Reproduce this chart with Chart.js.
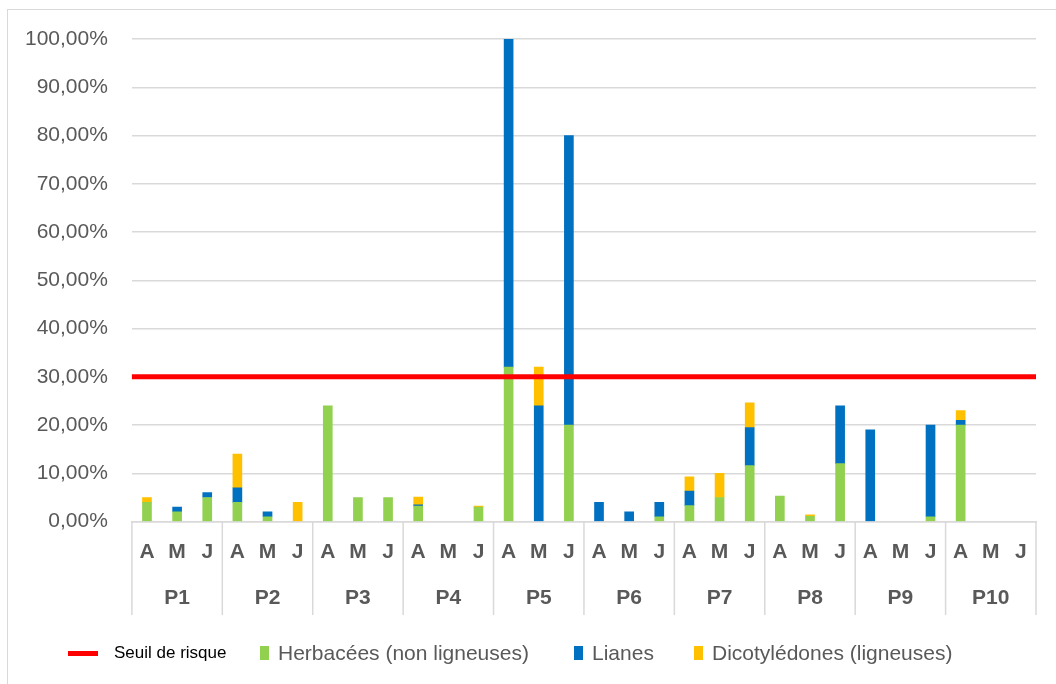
<!DOCTYPE html>
<html>
<head>
<meta charset="utf-8">
<script src="https://cdn.jsdelivr.net/npm/chart.js@4.4.1/dist/chart.umd.min.js"></script>
<style>
	html, body { margin: 0; padding: 0; background: #fff; }
	#wrap { position: relative; width: 1056px; height: 684px; overflow: hidden; }
	#frame { position: absolute; left: 7px; top: 9px; width: 1100px; height: 700px; border-left: 1px solid #d9d9d9; border-top: 1px solid #d9d9d9; }
	#mycanvas { position: absolute; left: 0; top: 0; }
	#legend { position: absolute; top: 640px; left: 0; width: 1056px; height: 26px; font-family: "Liberation Sans", Arial, sans-serif; }
	.item { position: absolute; top: 0; height: 26px; display: flex; align-items: center; white-space: nowrap; }
	.mark { display: inline-block; margin-right: 6px; }
</style>
</head>
<body>
<div id="wrap">
	<div id="frame"></div>
	<canvas id="mycanvas" width="1056" height="684"></canvas>
	<div id="legend"></div>
</div>
<script>
var mois = ['A', 'M', 'J'];
var parcelles = ['P1', 'P2', 'P3', 'P4', 'P5', 'P6', 'P7', 'P8', 'P9', 'P10'];
var yTicks = [0, 10, 20, 30, 40, 50, 60, 70, 80, 90, 100];
var seuil = 30;

// valeurs en %, ordre P1 A, P1 M, P1 J, P2 A ...
var herbacees = [4, 2, 5,   4, 1, 0,   24, 5, 5,   3.2, 0, 3,   32, 0, 20,   0, 0, 1,   3.3, 5, 11.6,   5.3, 1.1, 12,   0, 0, 1,   20, 0, 0];
var lianes =    [0, 1, 1,   3, 1, 0,   0, 0, 0,    0.3, 0, 0,   68, 24, 60,  4, 2, 3,   3, 0, 7.9,      0, 0, 12,       19, 0, 19,  1, 0, 0];
var dicot =     [1, 0, 0,   7, 0, 4,   0, 0, 0,    1.6, 0, 0.2, 0, 8, 0,     0, 0, 0,   3, 5, 5.1,      0, 0.3, 0,      0, 0, 0,    2, 0, 0];

var labels = [];
for (var p in parcelles) {
	for (var m in mois) {
		labels.push(mois[m]);
	}
}

// cellules vides : pas de barre du tout
function sansZero(arr) {
	return arr.map(function(v) { return v === 0 ? null : v; });
}

var grey = '#595959';
var lineGrey = '#d9d9d9';

var chartdata = {
	labels: labels,
	datasets: [
		{
			type: 'line',
			label: 'Seuil de risque',
			xAxisID: 'x3',
			data: [seuil, seuil],
			borderColor: '#ff0000',
			backgroundColor: '#ff0000',
			borderWidth: 5,
			pointRadius: 0,
			fill: false
		},
		{
			label: 'Herbacées (non ligneuses)',
			data: sansZero(herbacees),
			backgroundColor: '#92d050'
		},
		{
			label: 'Lianes',
			data: sansZero(lianes),
			backgroundColor: '#0070c0'
		},
		{
			label: 'Dicotylédones (ligneuses)',
			data: sansZero(dicot),
			backgroundColor: '#ffc000'
		}
	]
};

// traits verticaux entre les parcelles, sous l'axe
var separateurs = {
	id: 'separateurs',
	afterDraw: function(chart) {
		var x2 = chart.scales.x2;
		var c = chart.ctx;
		var half = (x2.getPixelForValue(1) - x2.getPixelForValue(0)) / 2;
		c.save();
		c.strokeStyle = lineGrey;
		c.lineWidth = 1.5;
		for (var i = 0; i <= parcelles.length; i++) {
			var px = x2.getPixelForValue(i) - half;
			c.beginPath();
			c.moveTo(px, chart.chartArea.bottom);
			c.lineTo(px, 615);
			c.stroke();
		}
		c.restore();
	}
};

var ctx = document.getElementById('mycanvas');

var barGraph = new Chart(ctx, {
	type: 'bar',
	data: chartdata,
	plugins: [separateurs],
	options: {
		responsive: false,
		animation: false,
		layout: { padding: { left: 1, right: 20, top: 39, bottom: 70 } },
		datasets: {
			bar: { grouped: false, barThickness: 9 }
		},
		plugins: {
			legend: { display: false },
			tooltip: { enabled: false }
		},
		scales: {
			x: {
				stacked: true,
				offset: true,
				weight: 0,
				border: { display: true, color: lineGrey, width: 1.5 },
				grid: { display: false, drawTicks: false },
				ticks: {
					padding: 18,
					maxRotation: 0,
					autoSkip: false,
					color: grey,
					font: { family: 'Liberation Sans', size: 21, weight: 'bold' }
				}
			},
			x2: {
				type: 'category',
				position: 'bottom',
				weight: 1,
				labels: parcelles,
				offset: true,
				border: { display: false },
				grid: { display: false, drawTicks: false },
				ticks: {
					padding: 3,
					maxRotation: 0,
					autoSkip: false,
					color: grey,
					font: { family: 'Liberation Sans', size: 21, weight: 'bold' }
				}
			},
			x3: {
				type: 'category',
				labels: ['', ''],
				offset: false,
				display: false
			},
			y: {
				stacked: true,
				min: 0,
				max: 100,
				border: { display: false },
				grid: { color: lineGrey, lineWidth: 1.5, drawTicks: false },
				afterBuildTicks: function(axis) {
					axis.ticks = yTicks.map(function(v) { return { value: v }; });
				},
				ticks: {
					padding: 24,
					color: grey,
					font: { family: 'Liberation Sans', size: 21 },
					callback: function(v) { return v.toFixed(2).replace('.', ',') + '%'; }
				}
			}
		}
	}
});

// légende
var legendPos = [68, 260, 574, 694];
var legend = document.getElementById('legend');
chartdata.datasets.forEach(function(ds, i) {
	var item = document.createElement('div');
	item.className = 'item';
	item.style.left = legendPos[i] + 'px';
	var mark = document.createElement('span');
	mark.className = 'mark';
	mark.style.background = ds.backgroundColor;
	var txt = document.createElement('span');
	txt.textContent = ds.label;
	if (ds.type === 'line') {
		mark.style.width = '30px';
		mark.style.height = '5px';
		mark.style.marginRight = '16px';
		txt.style.fontSize = '17px';
		txt.style.color = '#000';
	} else {
		mark.style.width = '9px';
		mark.style.height = '14px';
		mark.style.marginRight = '9px';
		txt.style.fontSize = '21px';
		txt.style.color = grey;
	}
	item.appendChild(mark);
	item.appendChild(txt);
	legend.appendChild(item);
});
</script>
</body>
</html>
